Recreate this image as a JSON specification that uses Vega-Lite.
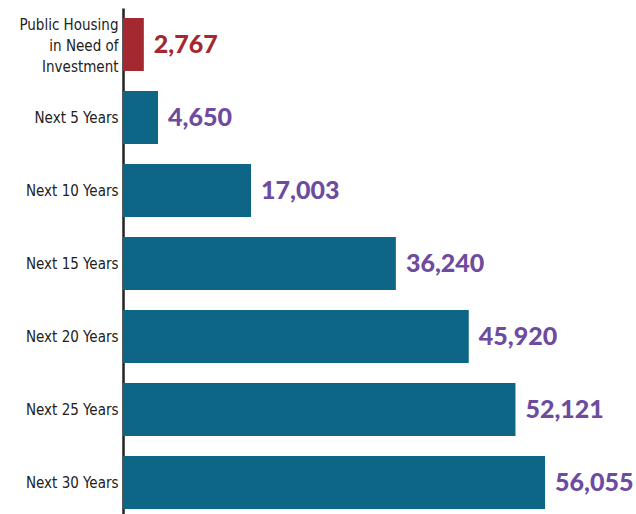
{
  "$schema": "https://vega.github.io/schema/vega-lite/v6.json",
  "autosize": "none",
  "padding": {"left": 123, "top": 8, "right": 0, "bottom": 0},
  "width": 513,
  "height": 511,
  "background": "white",
  "data": {"values": [
    {"cat": "Public Housing|in Need of|Investment", "value": 2767, "kind": "current"},
    {"cat": "Next 5 Years", "value": 4650, "kind": "future"},
    {"cat": "Next 10 Years", "value": 17003, "kind": "future"},
    {"cat": "Next 15 Years", "value": 36240, "kind": "future"},
    {"cat": "Next 20 Years", "value": 45920, "kind": "future"},
    {"cat": "Next 25 Years", "value": 52121, "kind": "future"},
    {"cat": "Next 30 Years", "value": 56055, "kind": "future"}
  ]},
  "encoding": {
    "y": {"field": "cat", "type": "nominal", "sort": null,
      "scale": {"paddingInner": 0.274, "paddingOuter": 0.137},
      "axis": {"title": null, "ticks": false, "domain": true, "domainColor": "#222222", "domainWidth": 2.5,
        "labelExpr": "split(datum.value, '|')", "labelFont": "DejaVu Sans Condensed", "labelFontSize": 15,
        "labelColor": "#222222", "labelPadding": 5, "labelLineHeight": 21, "labelLimit": 200,
        "labelOffset": {"condition": {"test": "indexof(datum.value, '|') >= 0", "value": -20}, "value": 0}}},
    "x": {"field": "value", "type": "quantitative", "scale": {"domain": [0, 68130], "nice": false}, "axis": null}
  },
  "layer": [
    {"mark": {"type": "bar"},
      "encoding": {"color": {"field": "kind", "type": "nominal", "legend": null,
        "scale": {"domain": ["current", "future"], "range": ["#A3282F", "#0E6687"]}}}},
    {"mark": {"type": "text", "align": "left", "baseline": "middle", "dx": 10, "font": "Lato", "fontWeight": 900, "fontSize": 25},
      "encoding": {"text": {"field": "value", "type": "quantitative", "format": ","},
        "color": {"field": "kind", "type": "nominal", "legend": null,
          "scale": {"domain": ["current", "future"], "range": ["#A3282F", "#6D4C9F"]}}}}
  ],
  "resolve": {"scale": {"color": "independent"}},
  "config": {"view": {"stroke": null}}
}
